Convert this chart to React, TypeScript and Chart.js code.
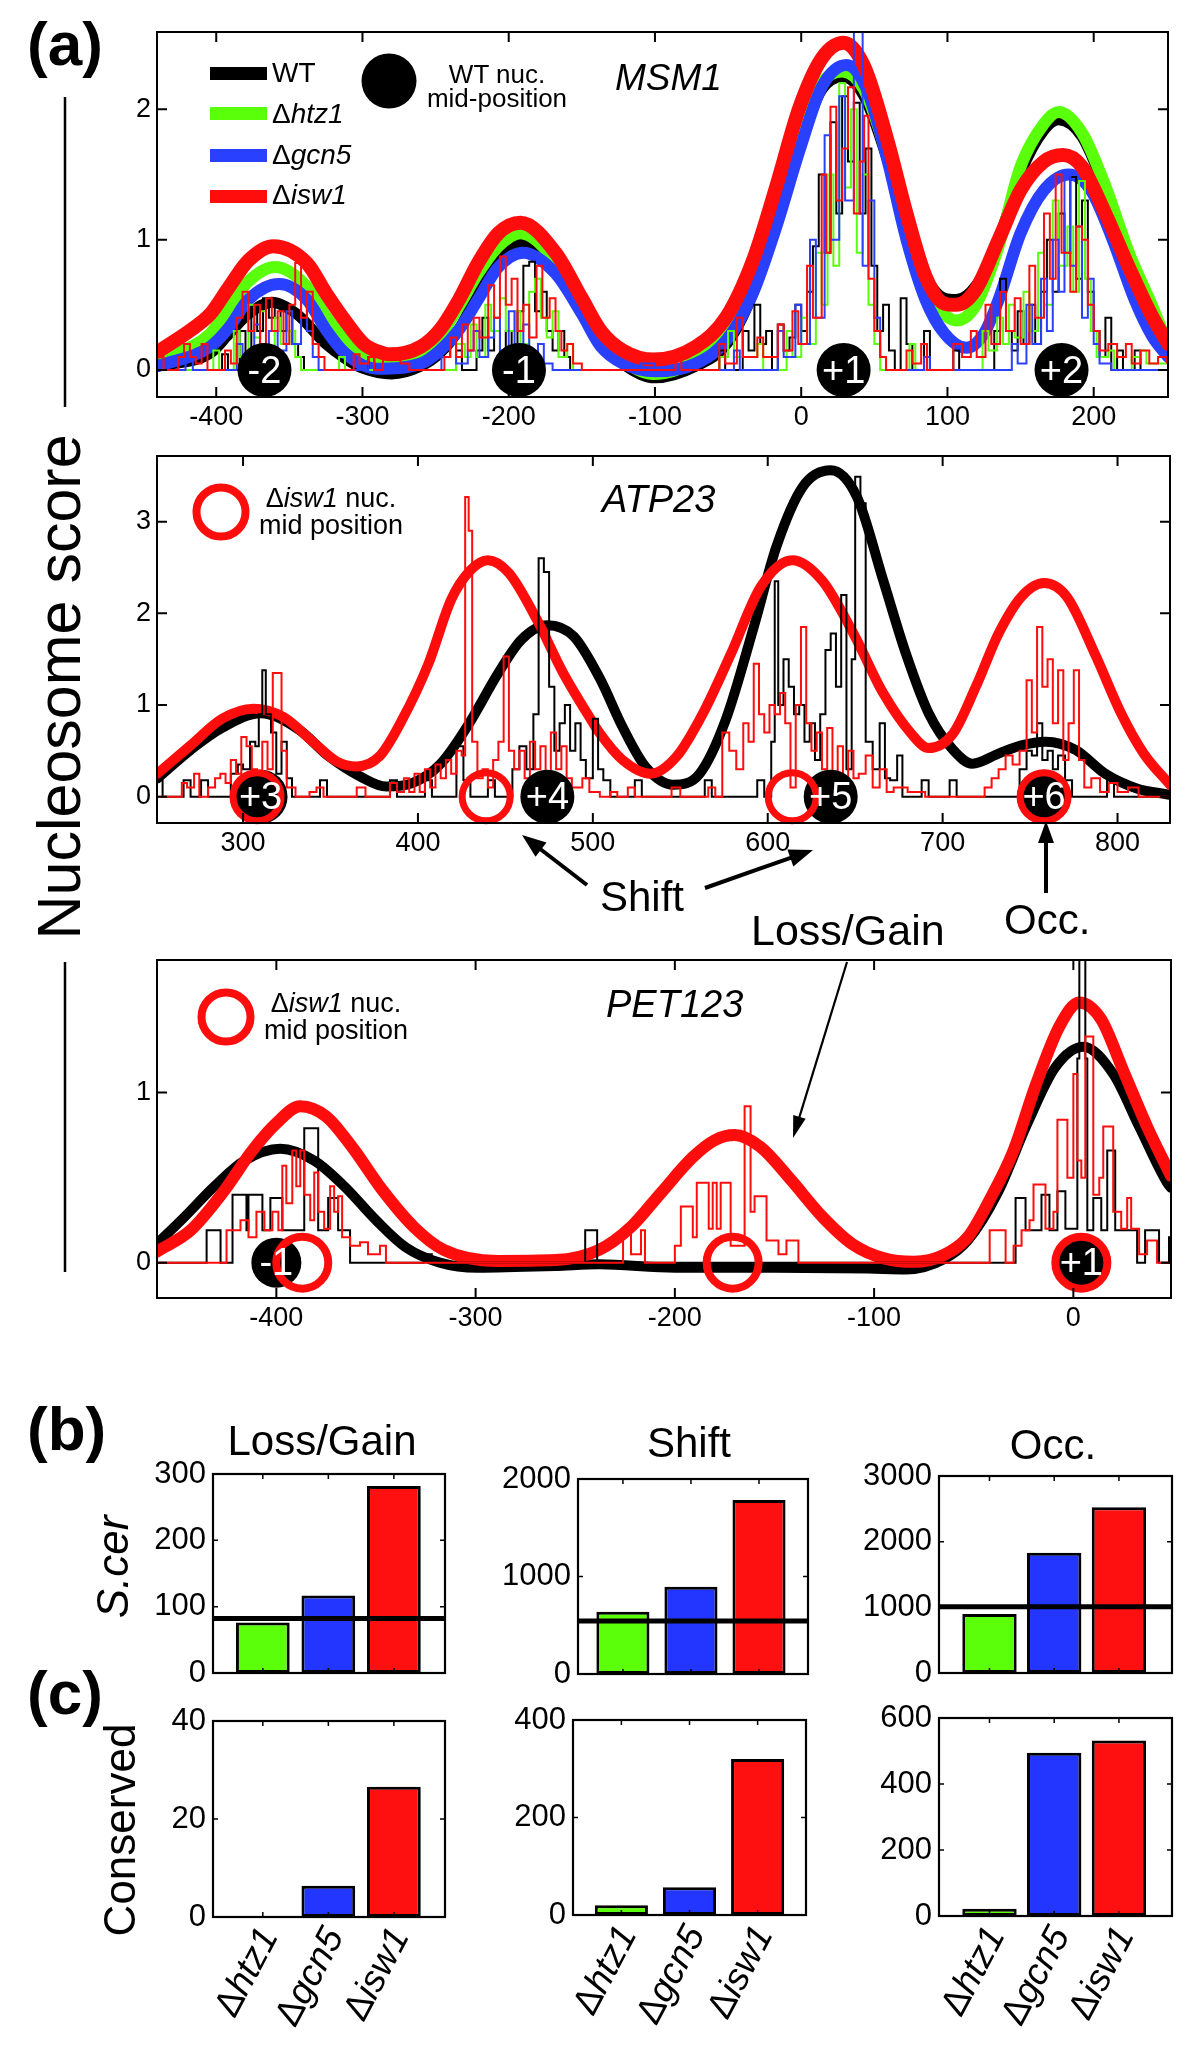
import React, { useEffect, useRef } from 'react';
import { Chart, registerables } from 'chart.js';

Chart.register(...registerables);

const FONT = '"Liberation Sans", Arial, Helvetica, sans-serif';
Chart.defaults.font.family = FONT;
Chart.defaults.color = '#000';

const C_BLACK = '#000000';
const C_GREEN = '#5aff0a';
const C_BLUE = '#2a40ff';
const C_RED = '#ff0d0d';
const BAR_COLORS = ['#5bff0a', '#2236ff', '#ff1010'];

type Pt = [number, number];

// ---------------- Panel (a) MSM1 ----------------
const MSM1_X_TICKS = [-400, -300, -200, -100, 0, 100, 200];
const MSM1_Y_TICKS = [0, 1, 2];
const MSM1_WT_NUC = [-367, -193, 29, 178];
const MSM1_WT_NUC_LABELS = ['-2', '-1', '+1', '+2'];

const MSM1_WT_SMOOTH: Pt[] = [[-440,0.03],[-404,0.13],[-391,0.28],[-378,0.43],[-362,0.52],[-345,0.43],[-325,0.2],[-312,0.09],[-299,0.01],[-280,-0.03],[-260,0.03],[-247,0.13],[-234,0.31],[-221,0.59],[-207,0.84],[-190,0.97],[-168,0.82],[-150,0.51],[-137,0.23],[-122,0.05],[-100,-0.06],[-72,0.03],[-51,0.2],[-33,0.59],[-17,1.15],[-1,1.74],[14,2.15],[28,2.25],[43,2.1],[59,1.61],[72,1.1],[85,0.72],[98,0.55],[106,0.54],[119,0.64],[135,1.0],[150,1.51],[166,1.84],[176,1.92],[192,1.79],[208,1.38],[224,0.87],[240,0.46],[251,0.18]];
const MSM1_HTZ1_SMOOTH: Pt[] = [[-440,0.08],[-404,0.28],[-391,0.49],[-378,0.68],[-360,0.79],[-338,0.64],[-325,0.41],[-312,0.23],[-299,0.1],[-283,0.04],[-260,0.1],[-247,0.26],[-234,0.49],[-221,0.74],[-207,0.95],[-192,1.05],[-168,0.84],[-150,0.54],[-137,0.28],[-122,0.08],[-101,-0.03],[-72,0.08],[-51,0.33],[-33,0.74],[-17,1.25],[-1,1.82],[14,2.2],[28,2.29],[43,2.15],[59,1.64],[72,1.1],[85,0.69],[98,0.43],[106,0.38],[119,0.49],[135,0.95],[150,1.56],[166,1.89],[176,1.98],[192,1.82],[208,1.41],[224,0.9],[240,0.49],[251,0.18]];
const MSM1_GCN5_SMOOTH: Pt[] = [[-440,0.03],[-404,0.18],[-391,0.33],[-378,0.54],[-357,0.66],[-338,0.54],[-325,0.31],[-312,0.13],[-290,0.01],[-260,0.05],[-247,0.15],[-234,0.31],[-221,0.54],[-207,0.79],[-190,0.9],[-168,0.74],[-150,0.43],[-137,0.18],[-122,0.05],[-100,-0.01],[-72,0.05],[-51,0.23],[-33,0.59],[-17,1.1],[-1,1.69],[14,2.17],[31,2.34],[45,2.15],[59,1.61],[72,1.0],[85,0.54],[98,0.28],[113,0.17],[125,0.28],[135,0.54],[150,1.05],[166,1.38],[183,1.5],[198,1.38],[213,1.0],[228,0.54],[240,0.26],[251,0.1]];
const MSM1_ISW1_SMOOTH: Pt[] = [[-440,0.14],[-417,0.31],[-404,0.43],[-391,0.64],[-378,0.84],[-361,0.95],[-338,0.82],[-325,0.59],[-312,0.38],[-299,0.2],[-286,0.13],[-281,0.12],[-260,0.18],[-247,0.31],[-234,0.54],[-221,0.82],[-207,1.05],[-192,1.13],[-168,0.9],[-150,0.55],[-137,0.3],[-122,0.15],[-101,0.08],[-72,0.18],[-51,0.41],[-33,0.84],[-17,1.41],[-1,2.02],[14,2.39],[29,2.51],[43,2.33],[59,1.76],[72,1.2],[85,0.72],[98,0.51],[106,0.5],[119,0.61],[135,1.0],[150,1.38],[166,1.6],[179,1.65],[192,1.56],[208,1.2],[224,0.79],[240,0.41],[251,0.2]];

const MSM1_WT_RAW: Pt[] = [[-440,0],[-400,0],[-396,0.12],[-392,0],[-384,0.3],[-380,0.12],[-376,0.45],[-372,0.3],[-368,0.55],[-364,0.4],[-360,0.5],[-356,0.3],[-352,0.45],[-348,0.2],[-344,0.1],[-340,0],[-300,0],[-296,0.1],[-292,0],[-240,0],[-236,0.15],[-232,0],[-222,0.15],[-218,0.4],[-214,0.15],[-210,0.3],[-206,0],[-202,0.3],[-198,0.15],[-194,0.45],[-190,0.8],[-186,0.83],[-182,0.45],[-178,0.6],[-174,0.3],[-170,0.15],[-166,0.3],[-162,0.1],[-158,0],[-60,0],[-56,0.15],[-52,0],[-40,0.3],[-36,0.15],[-32,0.5],[-28,0.2],[-24,0.3],[-20,0],[-16,0.35],[-12,0.15],[-8,0.25],[-4,0.5],[0,0.3],[4,0.6],[8,0.95],[12,1.5],[16,0.9],[20,1.9],[24,1.2],[28,2.1],[32,1.6],[36,2.05],[40,1.2],[44,1.7],[48,0.8],[52,0.3],[56,0.5],[60,0.15],[64,0],[68,0.55],[72,0.2],[76,0],[84,0.3],[88,0],[100,0],[104,0.15],[108,0],[128,0],[132,0.3],[136,0.7],[140,0.3],[144,0.15],[148,0.45],[152,0.2],[156,0.5],[160,0.2],[164,0.6],[168,1.0],[172,0.6],[176,1.2],[180,0.9],[184,1.48],[188,0.7],[192,1.3],[196,0.6],[200,0.3],[204,0.1],[208,0.4],[212,0],[216,0.15],[220,0],[228,0.15],[232,0],[250,0]];
const MSM1_HTZ1_RAW: Pt[] = [[-440,0],[-405,0],[-402,0.15],[-398,0],[-388,0.3],[-384,0.1],[-378,0.5],[-374,0.25],[-370,0.45],[-366,0.15],[-360,0.4],[-356,0.2],[-350,0.3],[-346,0.1],[-342,0],[-320,0],[-316,0.1],[-312,0],[-240,0],[-236,0.2],[-230,0.1],[-226,0.35],[-222,0.1],[-216,0.5],[-212,0.3],[-206,0.55],[-202,0.3],[-196,0.45],[-192,0.2],[-186,0.6],[-182,0.7],[-178,0.4],[-174,0.25],[-170,0.45],[-166,0.1],[-160,0.2],[-156,0],[-60,0],[-56,0.1],[-50,0.3],[-46,0.1],[-30,0.2],[-26,0],[-10,0.3],[-6,0.1],[0,0.4],[4,0.2],[10,0.9],[14,0.5],[18,1.5],[22,0.8],[26,2.2],[30,1.4],[34,2.0],[38,0.9],[42,1.5],[46,0.5],[50,0.2],[54,0],[70,0],[74,0.2],[78,0],[120,0],[124,0.3],[128,0.15],[134,0.4],[138,0.2],[142,0.5],[146,0.25],[152,0.6],[156,0.3],[162,0.9],[166,0.5],[172,1.3],[176,0.8],[182,1.1],[186,0.6],[190,1.45],[194,0.7],[198,0.3],[202,0.1],[210,0.15],[214,0],[226,0.1],[232,0.15],[236,0.05],[250,0.05]];
const MSM1_GCN5_RAW: Pt[] = [[-440,0],[-425,0],[-421,0.08],[-416,0],[-390,0],[-386,0.2],[-382,0.05],[-374,0.35],[-370,0.1],[-364,0.3],[-358,0.15],[-352,0.45],[-348,0.2],[-342,0.6],[-338,0.3],[-334,0.1],[-330,0],[-300,0],[-296,0.1],[-292,0],[-250,0],[-246,0.1],[-240,0.2],[-236,0.05],[-228,0.15],[-224,0.3],[-220,0.1],[-214,0.25],[-210,0.4],[-206,0.15],[-200,0.45],[-196,0.2],[-190,0.35],[-186,0.1],[-180,0.2],[-176,0.05],[-170,0],[-120,0],[-110,0.05],[-100,0],[-50,0],[-46,0.15],[-42,0],[-20,0],[-16,0.3],[-12,0.1],[-4,0.5],[0,0.2],[6,1.0],[10,0.4],[16,1.8],[20,1.0],[26,2.1],[30,1.3],[36,2.6],[39,2.75],[42,0.8],[46,1.3],[50,0.4],[54,0.1],[58,0],[80,0],[84,0.1],[88,0],[140,0],[144,0.2],[148,0.05],[154,0.5],[158,0.2],[164,0.7],[168,0.3],[172,1.0],[176,0.6],[180,1.5],[184,0.8],[188,1.1],[192,0.4],[196,0.7],[200,0.2],[204,0.05],[212,0],[250,0]];
const MSM1_ISW1_RAW: Pt[] = [[-440,0.1],[-436,0],[-430,0],[-426,0.1],[-422,0.2],[-418,0.1],[-414,0.05],[-410,0.2],[-406,0],[-398,0],[-394,0.15],[-390,0.05],[-386,0.4],[-382,0.6],[-378,0.3],[-374,0.5],[-370,0.2],[-366,0.55],[-362,0.3],[-358,0.45],[-354,0.2],[-350,0.5],[-346,0.82],[-342,0.4],[-338,0.6],[-334,0.2],[-330,0.1],[-326,0],[-310,0],[-306,0.12],[-302,0.05],[-296,0.1],[-292,0],[-286,0.15],[-282,0.1],[-278,0.15],[-274,0.05],[-268,0],[-248,0],[-244,0.1],[-240,0.25],[-236,0.1],[-232,0.35],[-228,0.15],[-224,0.4],[-220,0.25],[-214,0.65],[-210,0.4],[-206,0.87],[-202,0.5],[-198,0.7],[-194,0.3],[-190,0.5],[-186,0.25],[-181,0.8],[-177,0.4],[-172,0.55],[-168,0.3],[-164,0.15],[-160,0.2],[-156,0.05],[-150,0],[-90,0],[-86,0.1],[-82,0],[-60,0],[-56,0.2],[-52,0.05],[-44,0.4],[-40,0.1],[-30,0.25],[-26,0.1],[-16,0.35],[-12,0.15],[-6,0.45],[-2,0.2],[4,0.8],[8,0.4],[14,1.5],[17,0.9],[20,2.02],[24,1.3],[28,1.7],[32,2.17],[36,1.2],[40,1.6],[43,1.95],[46,0.7],[50,0.3],[54,0.1],[58,0],[68,0],[72,0.15],[76,0.05],[82,0.2],[86,0],[100,0],[104,0.2],[110,0.1],[116,0.3],[120,0.1],[126,0.5],[130,0.2],[136,0.6],[140,0.3],[146,0.55],[150,0.2],[156,0.8],[160,0.4],[166,1.2],[170,0.7],[174,1.5],[178,0.9],[184,0.6],[188,1.1],[192,1.0],[196,0.5],[200,0.3],[204,0.15],[210,0.2],[216,0.1],[222,0.2],[226,0.05],[232,0.15],[238,0.05],[244,0.1],[250,0.05]];

// ---------------- Panel ATP23 ----------------
const ATP23_X_TICKS = [300, 400, 500, 600, 700, 800];
const ATP23_Y_TICKS = [0, 1, 2, 3];
const ATP23_WT_NUC = [310, 474, 636, 758];
const ATP23_WT_NUC_LABELS = ['+3', '+4', '+5', '+6'];
const ATP23_ISW1_NUC = [308, 439, 614, 758];

const ATP23_WT_SMOOTH: Pt[] = [[251,0.2],[270,0.51],[288,0.75],[310,0.91],[332,0.73],[349,0.44],[367,0.22],[382,0.11],[397,0.15],[413,0.36],[428,0.76],[446,1.35],[459,1.71],[474,1.87],[489,1.75],[504,1.29],[517,0.76],[530,0.33],[546,0.13],[561,0.25],[576,0.84],[592,1.85],[605,2.73],[620,3.38],[636,3.56],[651,3.27],[666,2.36],[679,1.56],[692,0.91],[706,0.51],[717,0.36],[732,0.47],[745,0.56],[759,0.6],[776,0.51],[793,0.25],[811,0.09],[830,0.02]];
const ATP23_ISW1_SMOOTH: Pt[] = [[251,0.25],[270,0.56],[288,0.85],[306,0.96],[323,0.87],[341,0.58],[354,0.38],[365,0.33],[378,0.44],[391,0.84],[406,1.45],[419,2.15],[430,2.47],[440,2.58],[452,2.44],[468,1.93],[483,1.35],[498,0.87],[504,0.69],[517,0.4],[533,0.25],[548,0.44],[563,0.91],[579,1.56],[596,2.29],[614,2.58],[631,2.36],[649,1.78],[666,1.13],[682,0.69],[692,0.53],[706,0.69],[719,1.2],[732,1.78],[745,2.18],[758,2.33],[771,2.18],[787,1.56],[802,0.91],[815,0.47],[830,0.13]];
const ATP23_WT_RAW: Pt[] = [[250,0.18],[254,0],[262,0],[266,0.18],[270,0],[276,0.18],[280,0],[290,0],[293,0.25],[297,0.35],[300,0.3],[304,0.6],[307,0.55],[309,0.9],[311,1.38],[313,0.9],[316,0.7],[319,0.25],[322,0.6],[325,0.2],[328,0],[340,0],[344,0.18],[348,0],[380,0],[384,0.18],[388,0],[400,0],[404,0.18],[408,0],[418,0],[422,0.55],[426,0.18],[430,0],[436,0],[440,0.18],[444,0],[450,0],[454,0.3],[458,0.55],[462,0.3],[466,0.9],[469,2.6],[472,2.45],[475,1.2],[478,0.5],[481,0.8],[484,1.0],[487,0.5],[490,0.8],[493,0.4],[496,0.2],[500,0.85],[503,0.3],[506,0.18],[510,0],[520,0],[524,0.18],[528,0],[560,0],[564,0.18],[568,0],[590,0],[594,0.18],[598,0],[602,0.6],[604,2.35],[606,1.0],[609,1.5],[612,1.2],[615,0.9],[618,1.0],[621,0.6],[624,0.8],[627,0.4],[630,0.9],[633,1.6],[636,1.78],[639,1.2],[642,2.2],[645,0.3],[648,1.5],[650,3.49],[653,3.2],[656,0.6],[660,0.3],[664,0.8],[667,0.2],[670,0.18],[674,0.45],[677,0],[684,0],[688,0.18],[692,0],[700,0],[704,0.18],[708,0],[740,0],[744,0.3],[748,0.5],[751,0.45],[754,0.8],[757,0.4],[760,0.5],[763,0.3],[766,0.45],[770,0.18],[774,0],[790,0],[794,0.18],[798,0],[810,0],[830,0]];
const ATP23_ISW1_RAW: Pt[] = [[250,0],[262,0],[265,0.15],[268,0.1],[272,0.25],[275,0],[280,0.1],[284,0.2],[287,0.25],[290,0.15],[293,0.4],[296,0.25],[299,0.65],[302,0.55],[305,0.3],[308,0.15],[311,0.6],[314,0.3],[317,1.35],[320,1.35],[322,0.5],[325,0.1],[330,0],[338,0.05],[342,0.1],[346,0],[360,0],[365,0.1],[370,0],[380,0],[384,0.15],[388,0.05],[392,0.2],[395,0.05],[398,0.25],[401,0.05],[404,0.3],[407,0.1],[410,0.35],[413,0.2],[416,0.4],[419,0.25],[422,0.5],[425,0.45],[427,3.27],[429,2.9],[431,0.6],[434,0.2],[437,0.3],[440,0.1],[443,0.4],[446,0.6],[449,1.53],[452,0.5],[455,0.3],[458,0.5],[461,0.2],[464,0.6],[467,0.3],[470,0.55],[473,0.25],[476,0.7],[479,0.3],[482,0.55],[485,0.2],[488,0.1],[494,0.2],[498,0.05],[504,0],[510,0.05],[514,0],[520,0.1],[524,0],[540,0],[545,0.1],[550,0],[560,0],[566,0.1],[570,0],[574,0.7],[578,0.5],[582,0.3],[586,0.8],[589,0.6],[592,1.45],[595,0.9],[598,0.7],[601,1.0],[604,0.9],[607,1.13],[610,0.8],[613,0.1],[616,1.0],[619,1.85],[622,0.8],[625,0.5],[628,0.7],[631,0.3],[634,0.75],[637,0.2],[640,0.55],[643,0.1],[646,0.5],[649,0.2],[652,0.25],[656,0.45],[660,0.1],[664,0.3],[668,0.05],[672,0.1],[680,0.05],[690,0],[720,0],[724,0.1],[728,0.2],[732,0.3],[736,0.45],[740,0.35],[744,0.5],[748,1.27],[751,0.7],[754,1.85],[757,1.2],[760,1.5],[763,0.8],[766,1.38],[769,0.4],[772,0.8],[775,1.38],[778,0.4],[781,0.1],[785,0.2],[790,0.05],[795,0.15],[800,0.05],[806,0.1],[812,0],[830,0]];

// ---------------- Panel PET123 ----------------
const PET123_X_TICKS = [-400, -300, -200, -100, 0];
const PET123_Y_TICKS = [0, 1];
const PET123_WT_NUC = [-400, 4];
const PET123_WT_NUC_LABELS = ['-1', '+1'];
const PET123_ISW1_NUC = [-387, -171, 4];

const PET123_WT_SMOOTH: Pt[] = [[-460,0.11],[-446,0.27],[-431,0.45],[-416,0.6],[-398,0.67],[-381,0.6],[-366,0.45],[-350,0.25],[-335,0.09],[-318,0.0],[-299,-0.03],[-260,-0.02],[-238,-0.01],[-200,-0.03],[-150,-0.03],[-103,-0.035],[-84,-0.04],[-65,0.02],[-53,0.13],[-38,0.41],[-23,0.82],[-9,1.15],[5,1.27],[20,1.11],[33,0.8],[47,0.47],[49,0.44]];
const PET123_ISW1_SMOOTH: Pt[] = [[-460,0.065],[-443,0.19],[-427,0.41],[-412,0.66],[-400,0.82],[-388,0.92],[-375,0.86],[-362,0.68],[-347,0.43],[-331,0.21],[-316,0.075],[-289,0.01],[-260,0.015],[-238,0.075],[-222,0.21],[-207,0.41],[-191,0.62],[-180,0.72],[-170,0.75],[-157,0.68],[-142,0.49],[-126,0.27],[-111,0.11],[-95,0.025],[-80,0.005],[-65,0.045],[-53,0.15],[-42,0.37],[-30,0.66],[-19,1.04],[-7,1.39],[3,1.53],[14,1.43],[25,1.13],[37,0.8],[49,0.51]];
const PET123_WT_RAW: Pt[] = [[-460,0],[-436,0],[-435,0.19],[-429,0.19],[-428,0],[-423,0],[-422,0.4],[-416,0.4],[-415,0.19],[-414,0.4],[-408,0.4],[-407,0.19],[-404,0.19],[-403,0.38],[-398,0.38],[-397,0.19],[-392,0.19],[-388,0.19],[-386,0.79],[-380,0.79],[-379,0.19],[-375,0.19],[-374,0.38],[-370,0.38],[-369,0.19],[-364,0.19],[-363,0],[-330,0],[-326,0.05],[-322,0],[-246,0],[-245,0.19],[-240,0.19],[-239,0],[-30,0],[-29,0.38],[-25,0.38],[-24,0.19],[-17,0.19],[-16,0.4],[-13,0.4],[-12,0.19],[-9,0.19],[-8,0.42],[-5,0.42],[-4,0.2],[1,0.2],[2,1.2],[3,1.85],[5,1.85],[6,1.2],[7,0.19],[9,0.19],[10,0.38],[13,0.38],[14,0.19],[16,0.19],[17,0.66],[20,0.66],[21,0.19],[31,0.19],[32,0],[35,0],[36,0.19],[42,0.19],[43,0],[47,0],[48,0.15],[49,0.15]];
const PET123_ISW1_RAW: Pt[] = [[-460,0],[-426,0],[-425,0.19],[-420,0.19],[-418,0.25],[-414,0.15],[-410,0.3],[-406,0.19],[-402,0.3],[-399,0.19],[-397,0.57],[-395,0.35],[-392,0.66],[-390,0.45],[-388,0.66],[-386,0.4],[-383,0.25],[-381,0.53],[-379,0.3],[-376,0.2],[-373,0.45],[-371,0.3],[-369,0.39],[-367,0.15],[-363,0.1],[-358,0.12],[-354,0.05],[-348,0.1],[-345,0],[-230,0],[-226,0.19],[-222,0.05],[-217,0.19],[-215,0],[-205,0],[-200,0.1],[-197,0.33],[-194,0.33],[-191,0.15],[-189,0.47],[-185,0.47],[-183,0.2],[-181,0.47],[-179,0.2],[-177,0.47],[-174,0.47],[-172,0.1],[-168,0.1],[-165,0.92],[-164,0.92],[-162,0.3],[-160,0.39],[-156,0.39],[-154,0.13],[-150,0.13],[-148,0.05],[-144,0.13],[-140,0.13],[-138,0],[-44,0],[-42,0.19],[-36,0.19],[-34,0],[-30,0.1],[-26,0.19],[-22,0.25],[-20,0.46],[-16,0.46],[-14,0.2],[-10,0.3],[-8,0.84],[-5,0.84],[-3,0.5],[0,1.11],[2,0.6],[4,0.5],[6,1.33],[9,1.33],[10,0.4],[13,0.5],[15,0.8],[18,0.8],[20,0.3],[24,0.2],[27,0.38],[29,0.2],[33,0.05],[37,0.13],[41,0.13],[42,0],[49,0]];

// ---------------- Bars (b) and (c) ----------------
const CATEGORIES = ['Δhtz1', 'Δgcn5', 'Δisw1'];
const LOSSGAIN_SCER = [76, 117, 282];
const SHIFT_SCER = [639, 895, 1785];
const OCC_SCER = [898, 1832, 2523];
const LOSSGAIN_SCER_REF = 82;
const SHIFT_SCER_REF = 544;
const OCC_SCER_REF = 1010;
const LOSSGAIN_CONS = [0, 6.4, 26.6];
const SHIFT_CONS = [20, 57, 320];
const OCC_CONS = [22, 495, 532];
const LOSSGAIN_SCER_TICKS = [0, 100, 200, 300];
const SHIFT_SCER_TICKS = [0, 1000, 2000];
const OCC_SCER_TICKS = [0, 1000, 2000, 3000];
const LOSSGAIN_CONS_TICKS = [0, 20, 40];
const SHIFT_CONS_TICKS = [0, 200, 400];
const OCC_CONS_TICKS = [0, 200, 400, 600];

const toXY = (a: Pt[]) => a.map(([x, y]) => ({ x, y }));

// ---------------- plugins ----------------
const framePlugin = (tickLen: number, lw: number, tlw: number) => ({
  id: 'frame',
  afterDatasetsDraw(chart: any) {
    const { ctx, chartArea: a, scales } = chart;
    ctx.save();
    ctx.strokeStyle = '#000';
    ctx.lineWidth = tlw;
    ctx.beginPath();
    scales.x.ticks.forEach((t: any) => {
      const p = scales.x.getPixelForValue(t.value);
      ctx.moveTo(p, a.bottom); ctx.lineTo(p, a.bottom - tickLen);
      ctx.moveTo(p, a.top); ctx.lineTo(p, a.top + tickLen);
    });
    scales.y.ticks.forEach((t: any) => {
      const p = scales.y.getPixelForValue(t.value);
      ctx.moveTo(a.left, p); ctx.lineTo(a.left + tickLen, p);
      ctx.moveTo(a.right, p); ctx.lineTo(a.right - tickLen, p);
    });
    ctx.stroke();
    ctx.lineWidth = lw;
    ctx.strokeRect(a.left, a.top, a.right - a.left, a.bottom - a.top);
    ctx.restore();
  },
});

const nucLabelPlugin = (xs: number[], labels: string[], size: number) => ({
  id: 'nucLabels',
  afterDatasetsDraw(chart: any) {
    const { ctx, scales } = chart;
    ctx.save();
    ctx.fillStyle = '#fff';
    ctx.font = `${size}px ${FONT}`;
    ctx.textAlign = 'center';
    ctx.textBaseline = 'middle';
    xs.forEach((x, i) => {
      ctx.fillText(labels[i], scales.x.getPixelForValue(x), scales.y.getPixelForValue(0) + 2);
    });
    ctx.restore();
  },
});

const refLinePlugin = (value: number | null) => ({
  id: 'refLine',
  afterDatasetsDraw(chart: any) {
    if (value === null) return;
    const { ctx, chartArea: a, scales } = chart;
    const y = scales.y.getPixelForValue(value);
    ctx.save();
    ctx.strokeStyle = '#000';
    ctx.lineWidth = 5;
    ctx.beginPath();
    ctx.moveTo(a.left, y);
    ctx.lineTo(a.right, y);
    ctx.stroke();
    ctx.restore();
  },
});

const rotLabelPlugin = (show: boolean) => ({
  id: 'rotLabels',
  afterDraw(chart: any) {
    if (!show) return;
    const { ctx, chartArea: a, scales } = chart;
    const ang = (-62 * Math.PI) / 180;
    CATEGORIES.forEach((c, i) => {
      const head = c.slice(0, 1);
      const rest = c.slice(1);
      const px = scales.x.getPixelForValue(i + 1);
      ctx.save();
      ctx.translate(px + 7, a.bottom + 14);
      ctx.rotate(ang);
      ctx.textBaseline = 'middle';
      ctx.textAlign = 'left';
      ctx.fillStyle = '#000';
      const f1 = `37px ${FONT}`;
      const f2 = `italic 37px ${FONT}`;
      ctx.font = f1;
      const w1 = ctx.measureText(head).width;
      ctx.font = f2;
      const w2 = ctx.measureText(rest).width;
      ctx.font = f1;
      ctx.fillText(head, -(w1 + w2), 0);
      ctx.font = f2;
      ctx.fillText(rest, -w2, 0);
      ctx.restore();
    });
  },
});

// ---------------- dataset helpers ----------------
const smooth = (d: Pt[], color: string, width: number, order: number) => ({
  data: toXY(d), borderColor: color, borderWidth: width, pointRadius: 0, tension: 0.4,
  cubicInterpolationMode: 'monotone', borderCapStyle: 'round', borderJoinStyle: 'round', fill: false, order,
});
const raw = (d: Pt[], color: string, order: number) => ({
  data: toXY(d), borderColor: color, borderWidth: 2, pointRadius: 0, stepped: true, fill: false, order,
});
const discs = (xs: number[], r: number, order: number) => ({
  data: xs.map((x) => ({ x, y: 0 })), showLine: false, pointRadius: r, pointBackgroundColor: '#000',
  pointBorderColor: '#000', pointBorderWidth: 0, clip: false, order,
});
const rings = (xs: number[], r: number, bw: number, order: number) => ({
  data: xs.map((x) => ({ x, y: 0 })), showLine: false, pointRadius: r, pointBackgroundColor: 'rgba(0,0,0,0)',
  pointBorderColor: C_RED, pointBorderWidth: bw, clip: false, order,
});

type Box = { L: number; T: number; R: number; B: number };

function LinePanel(props: any) {
  const { box, xr, yr, xTicks, yTicks, makeDatasets, nucXs, nucLabels } = props as {
    box: Box; xr: number[]; yr: number[]; xTicks: number[]; yTicks: number[]; makeDatasets: () => any[];
    nucXs: number[]; nucLabels: string[];
  };
  const ref = useRef<HTMLCanvasElement | null>(null);
  const PL = 110, PR = 40, PT = 40, PB = 60;
  const w = box.R - box.L + PL + PR;
  const h = box.B - box.T + PT + PB;
  useEffect(() => {
    const chart = new Chart(ref.current as HTMLCanvasElement, {
      type: 'line',
      data: { datasets: makeDatasets() },
      options: {
        responsive: false, maintainAspectRatio: false, animation: false, events: [],
        layout: { padding: { left: 0, right: PR, top: PT, bottom: 0 } },
        plugins: { legend: { display: false }, tooltip: { enabled: false }, title: { display: false } },
        scales: {
          x: {
            type: 'linear', min: xr[0], max: xr[1], bounds: 'data',
            grid: { display: false, drawTicks: false }, border: { display: false },
            afterFit: (s: any) => { s.height = PB; },
            afterBuildTicks: (s: any) => { s.ticks = xTicks.map((v) => ({ value: v })); },
            ticks: { autoSkip: false, maxRotation: 0, minRotation: 0, padding: 4, color: '#000', font: { size: 27 }, callback: (v: any) => String(v) },
          },
          y: {
            type: 'linear', min: yr[0], max: yr[1], bounds: 'data',
            grid: { display: false, drawTicks: false }, border: { display: false },
            afterFit: (s: any) => { s.width = PL; },
            afterBuildTicks: (s: any) => { s.ticks = yTicks.map((v) => ({ value: v })); },
            ticks: { autoSkip: false, padding: 6, color: '#000', font: { size: 27 }, callback: (v: any) => String(v) },
          },
        },
      },
      plugins: [framePlugin(10, 2, 2), nucLabelPlugin(nucXs, nucLabels, 38)],
    } as any);
    return () => chart.destroy();
  }, []);
  return (
    <canvas ref={ref} width={w} height={h}
      style={{ position: 'absolute', left: box.L - PL, top: box.T - PT, width: w, height: h }} />
  );
}

function BarPanel(props: any) {
  const { box, xr, yMax, yTicks, values, refValue, showLabels, barPct } = props as {
    box: Box; xr: number[]; yMax: number; yTicks: number[]; values: number[]; refValue: number | null; showLabels: boolean; barPct: number;
  };
  const ref = useRef<HTMLCanvasElement | null>(null);
  const PL = 110, PR = 40, PT = 40, PB = showLabels ? 140 : 40;
  const w = box.R - box.L + PL + PR;
  const h = box.B - box.T + PT + PB;
  useEffect(() => {
    const chart = new Chart(ref.current as HTMLCanvasElement, {
      type: 'bar',
      data: {
        datasets: [{
          data: values.map((v, i) => ({ x: i + 1, y: v })),
          backgroundColor: BAR_COLORS, borderColor: '#000', borderWidth: 3, borderSkipped: false,
          barPercentage: barPct, categoryPercentage: 1,
        }],
      },
      options: {
        responsive: false, maintainAspectRatio: false, animation: false, events: [],
        layout: { padding: { left: 0, right: PR, top: PT, bottom: 0 } },
        plugins: { legend: { display: false }, tooltip: { enabled: false }, title: { display: false } },
        scales: {
          x: {
            type: 'linear', min: xr[0], max: xr[1], bounds: 'data', offset: false,
            grid: { display: false, drawTicks: false }, border: { display: false },
            afterFit: (s: any) => { s.height = PB; },
            afterBuildTicks: (s: any) => { s.ticks = [1, 2, 3].map((v) => ({ value: v })); },
            ticks: { display: false },
          },
          y: {
            type: 'linear', min: 0, max: yMax, bounds: 'data',
            grid: { display: false, drawTicks: false }, border: { display: false },
            afterFit: (s: any) => { s.width = PL; },
            afterBuildTicks: (s: any) => { s.ticks = yTicks.map((v) => ({ value: v })); },
            ticks: { autoSkip: false, padding: 7, color: '#000', font: { size: 31 }, callback: (v: any) => String(v) },
          },
        },
      },
      plugins: [refLinePlugin(refValue), framePlugin(5, 2.2, 1.5), rotLabelPlugin(showLabels)],
    } as any);
    return () => chart.destroy();
  }, []);
  return (
    <canvas ref={ref} width={w} height={h}
      style={{ position: 'absolute', left: box.L - PL, top: box.T - PT, width: w, height: h }} />
  );
}

// ---------------- HTML text helpers ----------------
function Txt(props: any) {
  const { x, y, size, anchor = 'start', italic = false, bold = false, children } = props;
  const tx = anchor === 'middle' ? 'translateX(-50%)' : anchor === 'end' ? 'translateX(-100%)' : 'none';
  return (
    <div style={{
      position: 'absolute', left: x, top: y - 0.8465 * size, fontSize: size, lineHeight: 1,
      fontStyle: italic ? 'italic' : 'normal', fontWeight: bold ? 'bold' : 'normal',
      whiteSpace: 'nowrap', transform: tx, fontFamily: FONT, color: '#000',
    }}>{children}</div>
  );
}
function VTxt(props: any) {
  const { cx, cy, size, italic = false, children } = props;
  return (
    <div style={{
      position: 'absolute', left: cx, top: cy, fontSize: size, lineHeight: 1, whiteSpace: 'nowrap',
      transform: 'translate(-50%, -50%) rotate(-90deg)', fontStyle: italic ? 'italic' : 'normal',
      fontFamily: FONT, color: '#000',
    }}>{children}</div>
  );
}
function Arrow(props: any) {
  const { x1, y1, x2, y2, w, hl, hw } = props;
  const dx = x2 - x1, dy = y2 - y1;
  const L = Math.hypot(dx, dy);
  const ux = dx / L, uy = dy / L;
  const bx = x2 - ux * hl, by = y2 - uy * hl;
  const px = -uy, py = ux;
  return (
    <g>
      <line x1={x1} y1={y1} x2={bx + ux} y2={by + uy} stroke="#000" strokeWidth={w} />
      <polygon points={`${x2},${y2} ${bx + (px * hw) / 2},${by + (py * hw) / 2} ${bx - (px * hw) / 2},${by - (py * hw) / 2}`} fill="#000" />
    </g>
  );
}
const Gene = ({ name }: { name: string }) => (<span>Δ<i>{name}</i></span>);

export default function App() {
  return (
    <div style={{ position: 'absolute', left: 0, top: 0, width: 1200, height: 2054, background: '#fff', overflow: 'hidden', fontFamily: FONT }}>
      <LinePanel
        box={{ L: 157, T: 32, R: 1168, B: 397 }} xr={[-440.5, 250.8]} yr={[-0.207, 2.593]}
        xTicks={MSM1_X_TICKS} yTicks={MSM1_Y_TICKS} nucXs={MSM1_WT_NUC} nucLabels={MSM1_WT_NUC_LABELS}
        makeDatasets={() => [
          discs(MSM1_WT_NUC, 27, 0),
          raw(MSM1_ISW1_RAW, C_RED, 1),
          raw(MSM1_GCN5_RAW, C_BLUE, 2),
          raw(MSM1_HTZ1_RAW, C_GREEN, 3),
          raw(MSM1_WT_RAW, C_BLACK, 4),
          smooth(MSM1_ISW1_SMOOTH, C_RED, 14, 5),
          smooth(MSM1_GCN5_SMOOTH, C_BLUE, 12, 6),
          smooth(MSM1_HTZ1_SMOOTH, C_GREEN, 12, 7),
          smooth(MSM1_WT_SMOOTH, C_BLACK, 11, 8),
        ]}
      />
      <LinePanel
        box={{ L: 157, T: 456, R: 1170, B: 823 }} xr={[250.8, 830]} yr={[-0.287, 3.716]}
        xTicks={ATP23_X_TICKS} yTicks={ATP23_Y_TICKS} nucXs={ATP23_WT_NUC} nucLabels={ATP23_WT_NUC_LABELS}
        makeDatasets={() => [
          rings(ATP23_ISW1_NUC, 24, 7, -1),
          discs(ATP23_WT_NUC, 27, 0),
          raw(ATP23_ISW1_RAW, C_RED, 1),
          raw(ATP23_WT_RAW, C_BLACK, 2),
          smooth(ATP23_ISW1_SMOOTH, C_RED, 10, 3),
          smooth(ATP23_WT_SMOOTH, C_BLACK, 10, 4),
        ]}
      />
      <LinePanel
        box={{ L: 157, T: 960, R: 1171, B: 1298 }} xr={[-459.9, 49]} yr={[-0.208, 1.78]}
        xTicks={PET123_X_TICKS} yTicks={PET123_Y_TICKS} nucXs={PET123_WT_NUC} nucLabels={PET123_WT_NUC_LABELS}
        makeDatasets={() => [
          rings(PET123_ISW1_NUC, 26, 8, -1),
          discs(PET123_WT_NUC, 25, 0),
          raw(PET123_ISW1_RAW, C_RED, 1),
          raw(PET123_WT_RAW, C_BLACK, 2),
          smooth(PET123_ISW1_SMOOTH, C_RED, 12, 3),
          smooth(PET123_WT_SMOOTH, C_BLACK, 10, 4),
        ]}
      />

      <BarPanel box={{ L: 213, T: 1474, R: 445, B: 1673 }} xr={[0.24, 3.78]} yMax={300} yTicks={LOSSGAIN_SCER_TICKS} values={LOSSGAIN_SCER} refValue={LOSSGAIN_SCER_REF} showLabels={false} barPct={0.82} />
      <BarPanel box={{ L: 578, T: 1479, R: 808, B: 1674 }} xr={[0.34, 3.72]} yMax={2000} yTicks={SHIFT_SCER_TICKS} values={SHIFT_SCER} refValue={SHIFT_SCER_REF} showLabels={false} barPct={0.78} />
      <BarPanel box={{ L: 939, T: 1476, R: 1172, B: 1673 }} xr={[0.22, 3.82]} yMax={3000} yTicks={OCC_SCER_TICKS} values={OCC_SCER} refValue={OCC_SCER_REF} showLabels={false} barPct={0.84} />
      <BarPanel box={{ L: 213, T: 1721, R: 445, B: 1917 }} xr={[0.24, 3.78]} yMax={40} yTicks={LOSSGAIN_CONS_TICKS} values={LOSSGAIN_CONS} refValue={null} showLabels={true} barPct={0.82} />
      <BarPanel box={{ L: 573, T: 1720, R: 806, B: 1915 }} xr={[0.29, 3.71]} yMax={400} yTicks={SHIFT_CONS_TICKS} values={SHIFT_CONS} refValue={null} showLabels={true} barPct={0.78} />
      <BarPanel box={{ L: 939, T: 1718, R: 1172, B: 1916 }} xr={[0.22, 3.82]} yMax={600} yTicks={OCC_CONS_TICKS} values={OCC_CONS} refValue={null} showLabels={true} barPct={0.84} />

      <svg width={1200} height={2054} style={{ position: 'absolute', left: 0, top: 0 }}>
        <line x1={65} y1={97} x2={65} y2={407} stroke="#000" strokeWidth={2.5} />
        <line x1={65} y1={962} x2={65} y2={1272} stroke="#000" strokeWidth={2.5} />
        <rect x={210} y={67} width={57} height={13} fill={C_BLACK} />
        <rect x={210} y={107} width={57} height={13} fill={C_GREEN} />
        <rect x={210} y={149} width={57} height={13} fill={C_BLUE} />
        <rect x={210} y={190} width={57} height={13} fill={C_RED} />
        <circle cx={389} cy={81} r={27.5} fill="#000" />
        <circle cx={221} cy={512} r={24.5} fill="none" stroke={C_RED} strokeWidth={8} />
        <circle cx={226} cy={1017} r={24.5} fill="none" stroke={C_RED} strokeWidth={8} />
        <Arrow x1={587} y1={885} x2={522} y2={835} w={4} hl={24} hw={18} />
        <Arrow x1={705} y1={888} x2={813} y2={850} w={4} hl={24} hw={18} />
        <Arrow x1={1046} y1={893} x2={1046} y2={821} w={4} hl={22} hw={16} />
        <Arrow x1={847} y1={962} x2={793} y2={1138} w={2.2} hl={22} hw={13} />
      </svg>

      <Txt x={27} y={65} size={62} bold>(a)</Txt>
      <Txt x={27} y={1450} size={62} bold>(b)</Txt>
      <Txt x={27} y={1714} size={62} bold>(c)</Txt>
      <VTxt cx={59} cy={687} size={61}>Nucleosome score</VTxt>
      <VTxt cx={113} cy={1567} size={44} italic>S.cer</VTxt>
      <VTxt cx={120} cy={1830} size={44}>Conserved</VTxt>

      <Txt x={272} y={83} size={28}>WT</Txt>
      <Txt x={272} y={124} size={28}><Gene name="htz1" /></Txt>
      <Txt x={272} y={165} size={28}><Gene name="gcn5" /></Txt>
      <Txt x={272} y={205} size={28}><Gene name="isw1" /></Txt>
      <Txt x={497} y={83} size={26} anchor="middle">WT nuc.</Txt>
      <Txt x={497} y={107} size={26} anchor="middle">mid-position</Txt>
      <Txt x={615} y={90} size={37} italic>MSM1</Txt>

      <Txt x={331} y={508} size={27} anchor="middle"><Gene name="isw1" /> nuc.</Txt>
      <Txt x={331} y={535} size={27} anchor="middle">mid position</Txt>
      <Txt x={602} y={512} size={38} italic>ATP23</Txt>

      <Txt x={336} y={1013} size={27} anchor="middle"><Gene name="isw1" /> nuc.</Txt>
      <Txt x={336} y={1040} size={27} anchor="middle">mid position</Txt>
      <Txt x={606} y={1017} size={38} italic>PET123</Txt>

      <Txt x={600} y={912} size={42}>Shift</Txt>
      <Txt x={751} y={945} size={43}>Loss/Gain</Txt>
      <Txt x={1004} y={935} size={42}>Occ.</Txt>

      <Txt x={322} y={1456} size={42} anchor="middle">Loss/Gain</Txt>
      <Txt x={689} y={1458} size={42} anchor="middle">Shift</Txt>
      <Txt x={1053} y={1460} size={42} anchor="middle">Occ.</Txt>
    </div>
  );
}
